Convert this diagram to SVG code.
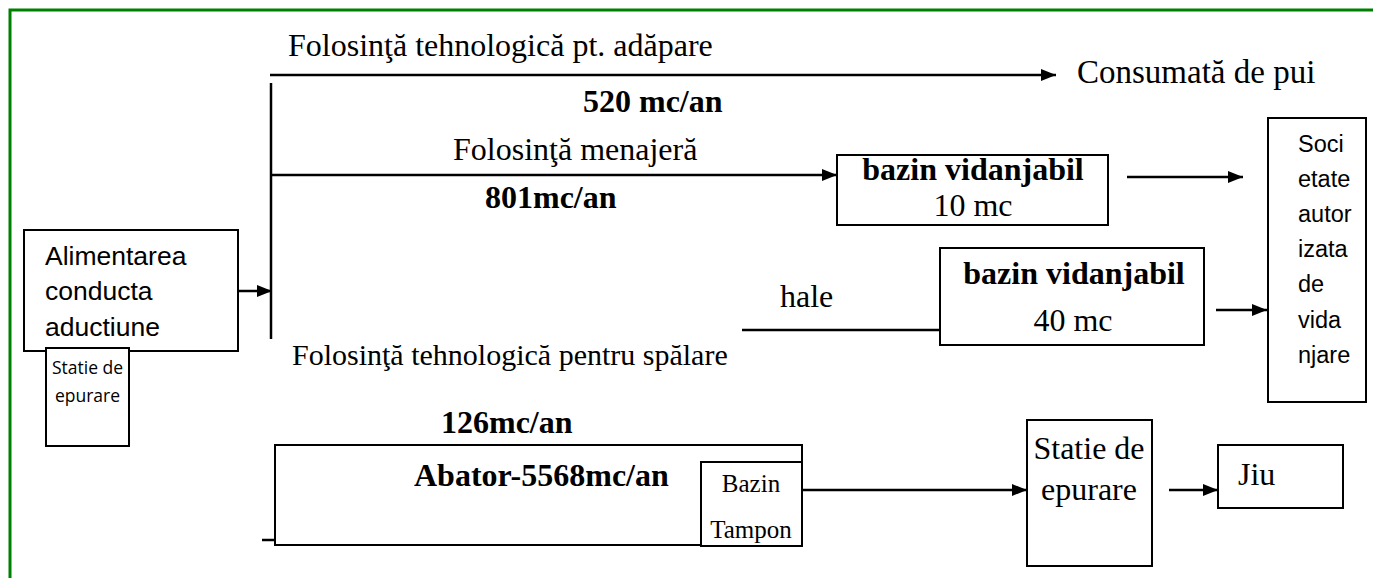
<svg xmlns="http://www.w3.org/2000/svg" width="1373" height="578" viewBox="0 0 1373 578">
<defs>
<style>
.box{fill:#fff;stroke:#000;stroke-width:2}
.ln{fill:none;stroke:#000;stroke-width:2.5}
.arr{fill:none;stroke:#000;stroke-width:2.5;marker-end:url(#ah)}
.t{font-family:"Liberation Serif","Times New Roman",serif;font-size:32px;fill:#000}
.b{font-family:"Liberation Serif","Times New Roman",serif;font-size:32px;font-weight:bold;fill:#000}
.a{font-family:"Liberation Sans",Arial,sans-serif;font-size:26.5px;fill:#000}
.a2{font-family:"Liberation Sans",Arial,sans-serif;font-size:23.5px;fill:#000}
.s{font-family:"Open Sans","Noto Sans",sans-serif;font-size:17.5px;fill:#000}
</style>
<marker id="ah" markerUnits="userSpaceOnUse" markerWidth="16" markerHeight="12" refX="15" refY="6" orient="auto">
<path d="M0,0 L15,6 L0,12 Z" fill="#000"/>
</marker>
<clipPath id="tamponClip"><rect x="701" y="462" width="100" height="83"/></clipPath>
</defs>
<rect width="1373" height="578" fill="#fff"/>
<path d="M10,578 V10 H1373" fill="none" stroke="#008000" stroke-width="3"/>

<g id="connectors">
<line class="arr" x1="270" y1="75" x2="1056" y2="75"/>
<line class="ln" x1="271" y1="83" x2="271" y2="339"/>
<line class="arr" x1="270" y1="175" x2="837" y2="175"/>
<line class="arr" x1="1127" y1="177" x2="1243" y2="177"/>
<line class="arr" x1="742" y1="330" x2="956" y2="330"/>
<line class="arr" x1="1216" y1="310" x2="1267" y2="310"/>
<line class="arr" x1="238" y1="291" x2="272" y2="291"/>
<line class="ln" x1="262" y1="540" x2="275" y2="540"/>
<line class="arr" x1="802" y1="490" x2="1027" y2="490"/>
<line class="arr" x1="1169" y1="490" x2="1218" y2="490"/>
</g>

<g id="labels">
<text class="t" x="288" y="56">Folosinţă tehnologică pt. adăpare</text>
<text class="t" x="1077" y="83" style="font-size:33px">Consumată de pui</text>
<text class="b" x="583" y="112">520 mc/an</text>
<text class="t" x="453" y="160">Folosinţă menajeră</text>
<text class="b" x="485" y="208">801mc/an</text>
<text class="t" x="780" y="307">hale</text>
<text class="t" x="292" y="365" style="font-size:30px">Folosinţă tehnologică pentru spălare</text>
<text class="b" x="441" y="433">126mc/an</text>
</g>

<g id="alimentarea">
<rect class="box" x="24" y="230" width="214" height="121"/>
<text class="a" x="45" y="265">Alimentarea</text>
<text class="a" x="45" y="300">conducta</text>
<text class="a" x="45" y="336">aductiune</text>
</g>

<g id="statie-mic">
<rect class="box" x="46" y="348" width="83" height="98"/>
<text class="s" x="87.5" y="374" text-anchor="middle">Statie de</text>
<text class="s" x="87.5" y="402" text-anchor="middle">epurare</text>
</g>

<g id="bazin10">
<rect class="box" x="837" y="155" width="271" height="70"/>
<text class="b" x="973" y="180" text-anchor="middle">bazin vidanjabil</text>
<text class="t" x="973" y="216" text-anchor="middle">10 mc</text>
</g>

<g id="bazin40">
<rect class="box" x="940" y="248" width="264" height="97"/>
<text class="b" x="1074" y="284" text-anchor="middle">bazin vidanjabil</text>
<text class="t" x="1073" y="331" text-anchor="middle">40 mc</text>
</g>

<g id="societate">
<rect class="box" x="1268" y="118" width="98" height="284"/>
<text class="a2" x="1298" y="152">Soci</text>
<text class="a2" x="1298" y="187">etate</text>
<text class="a2" x="1298" y="222">autor</text>
<text class="a2" x="1298" y="257">izata</text>
<text class="a2" x="1298" y="292">de</text>
<text class="a2" x="1298" y="328">vida</text>
<text class="a2" x="1298" y="363">njare</text>
</g>

<g id="abator">
<rect class="box" x="275" y="445" width="527" height="100"/>
<text class="b" x="414" y="486">Abator-5568mc/an</text>
</g>

<g id="bazin-tampon">
<rect class="box" x="701" y="462" width="101" height="84"/>
<g clip-path="url(#tamponClip)">
<text class="t" x="751" y="492" text-anchor="middle" style="font-size:25px">Bazin</text>
<text class="t" x="751" y="538" text-anchor="middle" style="font-size:25px">Tampon</text>
</g>
</g>

<g id="statie-epurare">
<rect class="box" x="1027" y="420" width="125" height="146"/>
<text class="t" x="1089" y="459" text-anchor="middle">Statie de</text>
<text class="t" x="1089" y="500" text-anchor="middle">epurare</text>
</g>

<g id="jiu">
<rect class="box" x="1218" y="445" width="125" height="63"/>
<text class="t" x="1238" y="485">Jiu</text>
</g>
</svg>
